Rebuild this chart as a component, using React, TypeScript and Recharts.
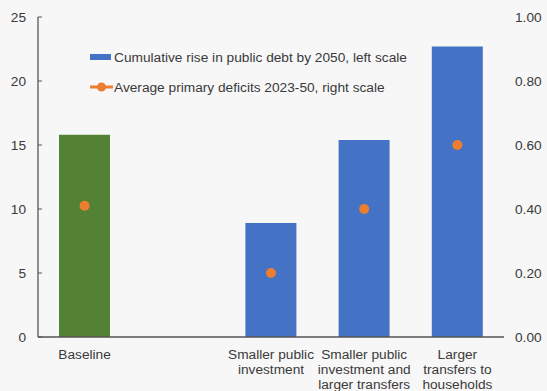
import { ComposedChart, Bar, Line, XAxis, YAxis, Cell, Legend } from 'recharts';

const categories = [
  'Baseline',
  '',
  'Smaller public investment',
  'Smaller public investment and larger transfers',
  'Larger transfers to households',
];
const categoryLines = [
  ['Baseline'],
  [],
  ['Smaller public', 'investment'],
  ['Smaller public', 'investment and', 'larger transfers'],
  ['Larger', 'transfers to', 'households'],
];
const debtRise = [15.8, null, 8.9, 15.4, 22.7];
const primaryDeficits = [0.41, null, 0.2, 0.4, 0.6];
const barColors = ['#548235', '#4472C4', '#4472C4', '#4472C4', '#4472C4'];
const leftTicks = [0, 5, 10, 15, 20, 25];
const rightTicks = [0, 0.2, 0.4, 0.6, 0.8, 1.0];

const debtLabel = 'Cumulative rise in public debt by 2050, left scale';
const deficitLabel = 'Average primary deficits 2023-50, right scale';
const legendOrder = [debtLabel, deficitLabel];

const data = categories.map((name, i) => ({
  name,
  debt: debtRise[i],
  deficit: primaryDeficits[i],
}));

const FONT = '"Liberation Sans", Arial, sans-serif';
const TEXT = '#3a3a3a';
const AXIS = '#555555';
const FS = 13.7;

function LeftTick({ x, y, payload }: any) {
  return (
    <g>
      <line x1={x + 12} x2={x + 16} y1={y} y2={y} stroke={AXIS} strokeWidth={1} />
      <text x={x} y={y} dy={4.8} textAnchor="end" fill={TEXT} fontSize={FS} fontFamily={FONT}>
        {payload.value}
      </text>
    </g>
  );
}

function RightTick({ x, y, payload }: any) {
  return (
    <text x={x} y={y} dy={4.8} textAnchor="start" fill={TEXT} fontSize={FS} fontFamily={FONT}>
      {Number(payload.value).toFixed(2)}
    </text>
  );
}

function CategoryTick({ x, y, payload }: any) {
  const lines = categoryLines[payload.index] ?? [];
  return (
    <text x={x} y={y} textAnchor="middle" fill={TEXT} fontSize={FS} fontFamily={FONT}>
      {lines.map((line, i) => (
        <tspan key={i} x={x} dy={i === 0 ? 21.5 : 15.3}>
          {line}
        </tspan>
      ))}
    </text>
  );
}

function renderLegend(props: any) {
  const payload = [...(props.payload ?? [])].sort(
    (a: any, b: any) => legendOrder.indexOf(a.value) - legendOrder.indexOf(b.value)
  );
  return (
    <div style={{ fontFamily: FONT, fontSize: FS, color: TEXT }}>
      {payload.map((entry: any, i: number) => (
        <div key={i} style={{ display: 'flex', alignItems: 'center', height: 30, whiteSpace: 'nowrap' }}>
          {entry.type === 'line' ? (
            <svg width={23} height={12} style={{ marginRight: 1 }}>
              <line x1={0} x2={23} y1={6} y2={6} stroke="#ED7D31" strokeWidth={3} />
              <circle cx={11.5} cy={6} r={4.5} fill="#ED7D31" />
            </svg>
          ) : (
            <svg width={23} height={12} style={{ marginRight: 1 }}>
              <rect x={0} y={3} width={21} height={6} fill="#4472C4" />
            </svg>
          )}
          <span>{entry.value}</span>
        </div>
      ))}
    </div>
  );
}

export default function App() {
  return (
    <div style={{ position: 'absolute', left: 0, top: 0, width: 547, height: 391, background: '#f7f7f7' }}>
      <ComposedChart
        width={547}
        height={391}
        data={data}
        margin={{ top: 17, right: 0, bottom: 0, left: 0 }}
      >
        <XAxis
          dataKey="name"
          height={54}
          tickLine={false}
          tickSize={0}
          tickMargin={0}
          interval={0}
          axisLine={{ stroke: AXIS, strokeWidth: 1.3 }}
          tick={<CategoryTick />}
        />
        <YAxis
          yAxisId="left"
          orientation="left"
          width={38}
          domain={[0, 25]}
          ticks={leftTicks}
          tickLine={false}
          tickSize={0}
          tickMargin={12}
          axisLine={{ stroke: AXIS, strokeWidth: 1.3 }}
          tick={<LeftTick />}
        />
        <YAxis
          yAxisId="right"
          orientation="right"
          width={43}
          domain={[0, 1]}
          ticks={rightTicks}
          tickLine={false}
          tickSize={0}
          tickMargin={11}
          axisLine={false}
          tick={<RightTick />}
        />
        <Legend
          layout="vertical"
          align="center"
          verticalAlign="middle"
          wrapperStyle={{ left: 90, top: 42, width: 340 }}
          content={renderLegend}
        />
        <Bar yAxisId="left" dataKey="debt" name={debtLabel} fill="#4472C4" barSize={51} isAnimationActive={false}>
          {data.map((_, i) => (
            <Cell key={`cell-${i}`} fill={barColors[i]} />
          ))}
        </Bar>
        <Line
          yAxisId="right"
          dataKey="deficit"
          name={deficitLabel}
          stroke="none"
          legendType="line"
          dot={{ r: 5, fill: '#ED7D31', stroke: 'none' }}
          activeDot={false}
          isAnimationActive={false}
        />
      </ComposedChart>
    </div>
  );
}
